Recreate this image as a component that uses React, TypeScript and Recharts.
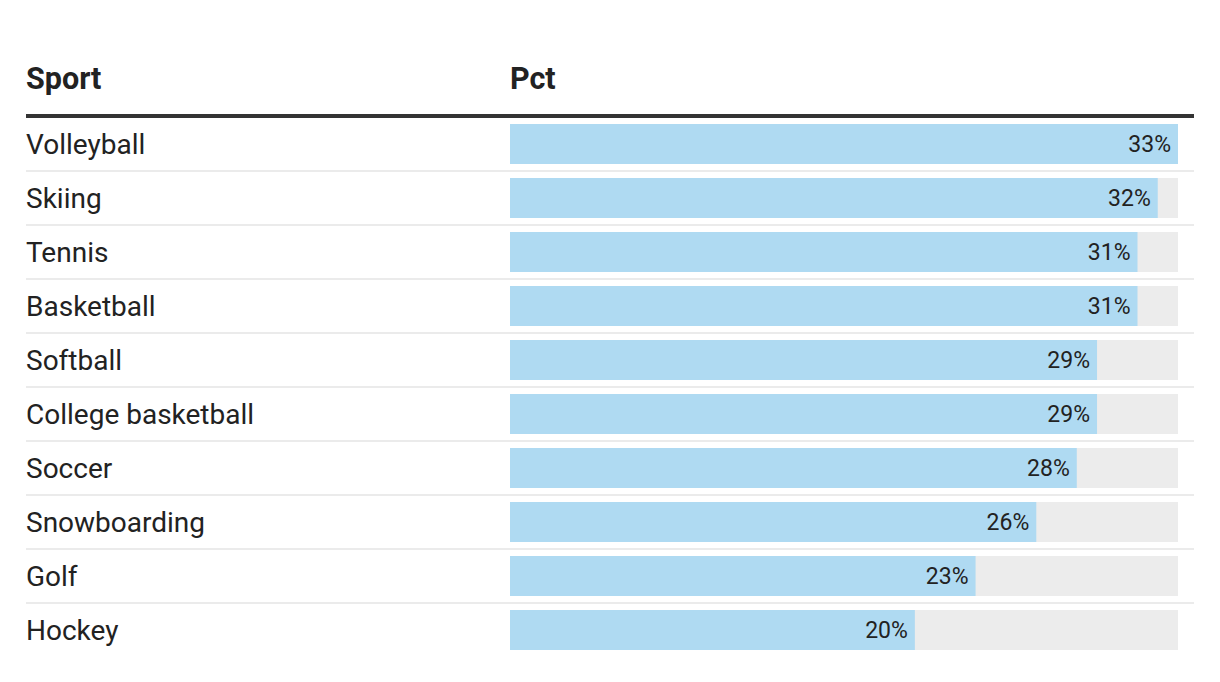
import React from 'react';
import { BarChart, Bar, XAxis, YAxis, LabelList } from 'recharts';

const sports = [
    'Volleyball',
    'Skiing',
    'Tennis',
    'Basketball',
    'Softball',
    'College basketball',
    'Soccer',
    'Snowboarding',
    'Golf',
    'Hockey',
];
const pcts = [33, 32, 31, 31, 29, 29, 28, 26, 23, 20];

const data = sports.map((sport, i) => ({ sport, pct: pcts[i] }));

const FONT = 'Roboto, "Noto Sans", sans-serif';
const TEXT = '#222222';

// sport name on the left plus the thin row divider under it
const SportTick = (props: any) => {
    const { y, payload, index } = props;
    const isLast = index === sports.length - 1;
    return (
        <g>
            <text
                x={26}
                y={y}
                dy={10}
                textAnchor="start"
                fontFamily={FONT}
                fontSize={28}
                fill={TEXT}
            >
                {payload.value}
            </text>
            {!isLast && (
                <line x1={26} x2={1194} y1={y + 27} y2={y + 27} stroke="#ebebeb" strokeWidth={2} />
            )}
        </g>
    );
};

const PctLabel = (props: any) => {
    const { x, y, width, height, value } = props;
    return (
        <text
            x={x + width - 7}
            y={y + height / 2}
            dy={8}
            textAnchor="end"
            fontFamily={FONT}
            fontSize={23}
            fill={TEXT}
        >
            {value}%
        </text>
    );
};

const headStyle: React.CSSProperties = {
    position: 'absolute',
    top: 60,
    fontFamily: FONT,
    fontWeight: 700,
    fontSize: 30.5,
    color: TEXT,
    lineHeight: '38px',
};

const App: React.FC = () => {
    return (
        <div style={{ position: 'absolute', left: 0, top: 0, width: 1220, height: 682, background: '#fff' }}>
            <div style={{ ...headStyle, left: 26 }}>Sport</div>
            <div style={{ ...headStyle, left: 510 }}>Pct</div>
            <div
                style={{
                    position: 'absolute',
                    left: 26,
                    top: 114,
                    width: 1168,
                    height: 4,
                    background: '#333333',
                }}
            />
            <BarChart
                width={1220}
                height={682}
                data={data}
                layout="vertical"
                margin={{ top: 117, right: 42, bottom: 25, left: 0 }}
                barSize={40}
            >
                <XAxis type="number" dataKey="pct" domain={[0, 33]} hide />
                <YAxis
                    type="category"
                    dataKey="sport"
                    width={510}
                    axisLine={false}
                    tickLine={false}
                    tick={<SportTick />}
                    interval={0}
                />
                <Bar
                    dataKey="pct"
                    fill="#afdaf2"
                    background={{ fill: '#ececec' }}
                    isAnimationActive={false}
                >
                    <LabelList dataKey="pct" content={<PctLabel />} />
                </Bar>
            </BarChart>
        </div>
    );
};

export default App;
